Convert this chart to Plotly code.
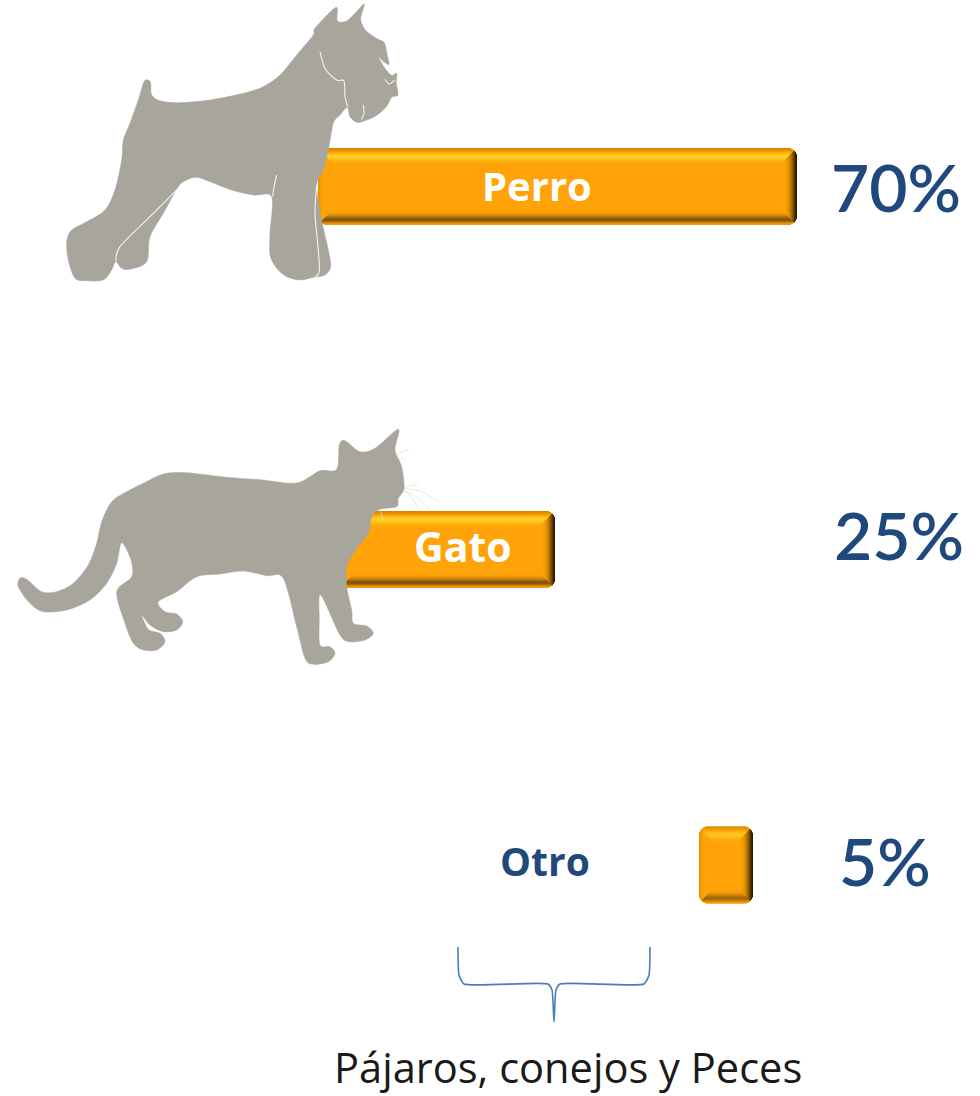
import plotly.graph_objects as go

# ---- data
categories = ["Perro", "Gato", "Otro"]
percent_values = [70, 25, 5]
bar_start = [318, 340, 699]
bar_end = [797, 555, 753]
bar_center_y = [186.5, 549.5, 865]
bar_thickness = 77

ORANGE = "#FFA308"
NAVY = "#1F497D"
GREY = "#A8A69C"

dog_outline = [(858,22),(862,62),(888,64),(915,40),(943,12),(932,58),(948,92),(985,118),(1003,128),(1012,165),(1017,193),(1002,186),(986,170),(1004,204),(1025,226),(1040,220),(1039,250),(1044,285),(1025,292),(1008,322),(978,347),(945,362),(920,367),(900,350),(892,322),(870,345),(850,370),(835,450),(820,510),(800,555),(815,660),(835,750),(842,800),(825,825),(790,832),(750,840),(710,830),(680,805),(660,765),(660,700),(665,590),(610,585),(545,570),(480,545),(440,532),(410,540),(385,560),(340,640),(300,710),(290,785),(240,808),(215,805),(197,785),(185,810),(160,840),(110,842),(75,835),(55,780),(50,725),(65,690),(110,665),(165,630),(195,570),(215,480),(220,420),(240,370),(265,300),(282,245),(295,240),(302,250),(305,285),(330,302),(385,308),(480,300),(580,280),(640,260),(690,225),(740,165),(790,105),(795,85)]
dog_white_lines = [
    [(810,155),(825,205),(860,240),(882,243),(885,290),(893,320)],
    [(800,555),(795,640),(805,750),(808,815),(795,830)],
    [(385,565),(300,650),(210,740),(197,785)],
    [(680,525),(672,560),(668,590)],
    [(1005,238),(1018,252),(1034,240)],
    [(940,315),(942,340),(935,358)],
]
cat_outline = [(1195,28),(1185,90),(1205,140),(1212,205),(1195,235),(1190,260),(1140,268),(1115,290),(1105,340),(1070,385),(1040,440),(1040,500),(1055,570),(1060,610),(1100,618),(1120,640),(1095,660),(1050,665),(1020,645),(962,525),(958,600),(960,675),(990,680),(1005,700),(985,725),(940,733),(915,715),(890,620),(850,475),(800,467),(730,453),(660,462),(590,470),(530,515),(475,545),(495,575),(530,582),(548,605),(530,630),(490,635),(450,615),(425,585),(445,628),(480,640),(495,665),(470,690),(430,690),(400,670),(375,610),(350,515),(395,470),(393,420),(365,368),(350,430),(320,490),(270,540),(200,570),(130,575),(90,550),(55,500),(60,475),(80,478),(125,515),(170,515),(220,490),(265,435),(290,370),(305,305),(335,245),(380,215),(430,190),(490,162),(560,158),(680,172),(790,180),(870,190),(910,182),(960,152),(1010,148),(1018,75),(1035,62),(1080,95),(1125,85)]
cat_whiskers = [
    [(1212,205),(1265,215),(1315,245)],
    [(1212,212),(1255,235),(1290,270)],
    [(1212,208),(1240,240),(1255,268)],
    [(1212,203),(1240,195),(1255,198)],
    [(1188,110),(1205,95),(1228,90)],
    [(1192,122),(1205,115),(1222,125)],
    [(1140,268),(1145,285),(1150,300)],
]
brace_x = [458, 459, 464, 548, 552, 554, 556, 560, 644, 649, 650]
brace_y = [947, 975, 984, 984, 990, 1022, 990, 984, 984, 975, 947]


def tf(points, ox, oy):
    return [(ox + x / 3, oy + y / 3) for x, y in points]


def smooth(points, closed=True, k=0.15):
    n = len(points)
    path = f"M {points[0][0]:.1f},{points[0][1]:.1f}"
    last = n if closed else n - 1
    for i in range(last):
        p0 = points[(i - 1) % n] if (closed or i > 0) else points[i]
        p1 = points[i]
        p2 = points[(i + 1) % n]
        p3 = points[(i + 2) % n] if (closed or i + 2 < n) else p2
        c1 = (p1[0] + (p2[0] - p0[0]) * k, p1[1] + (p2[1] - p0[1]) * k)
        c2 = (p2[0] - (p3[0] - p1[0]) * k, p2[1] - (p3[1] - p1[1]) * k)
        path += f" C {c1[0]:.1f},{c1[1]:.1f} {c2[0]:.1f},{c2[1]:.1f} {p2[0]:.1f},{p2[1]:.1f}"
    return path + (" Z" if closed else "")


fig = go.Figure()
fig.add_trace(go.Bar(
    y=bar_center_y,
    x=[e - s for s, e in zip(bar_start, bar_end)],
    base=bar_start,
    orientation="h",
    width=bar_thickness,
    marker=dict(color=ORANGE, line_width=0, cornerradius=9),
    hoverinfo="skip",
))
fig.add_trace(go.Scatter(
    x=brace_x, y=brace_y, mode="lines",
    line=dict(color="#4A7EBB", width=1.6, shape="spline", smoothing=0.5),
    hoverinfo="skip",
))

shapes = []
TOP = ["#D98200", "#E08A00", "#EA9400", "#F29C04", "#F8A808", "#FDB810", "#FFC41C", "#FFCC24", "#FFD028", "#FFCC24", "#FFC61E", "#FFBE18", "#FFB612", "#FFAF0E", "#FFAA0A", "#FFA608"]
BOTTOM = ["#F59A00", "#EE9400", "#D08000", "#A86A08", "#8A560C", "#84520C", "#8E5A0C", "#A4680C", "#BC780A", "#CF860A", "#E0920A", "#EE9A08", "#F8A008", "#FCA208"]
RIGHT = ["#2A1800", "#3E2600", "#583800", "#724A02", "#8E5C04", "#A86E06", "#BE7C06", "#D08806", "#DE9206", "#EA9806", "#F29C06", "#F8A008", "#FCA208"]
LEFT = ["#E89000", "#EE9602", "#F49C04", "#F8A006", "#FBA208", "#FDA408", "#FFA508"]
R = 9


def inset(d):
    if d >= R:
        return 0
    return R - (R ** 2 - (R - d - 0.5) ** 2) ** 0.5


def strip(x0, x1, y0, y1, color):
    if x1 > x0 and y1 > y0:
        shapes.append(dict(type="rect", xref="x", yref="y", x0=x0, x1=x1, y0=y0, y1=y1,
                           fillcolor=color, line_width=0, layer="above"))


for s, e, cy in zip(bar_start, bar_end, bar_center_y):
    t, b = cy - bar_thickness / 2, cy + bar_thickness / 2
    for d, c in enumerate(LEFT):
        strip(s + d, s + d + 1, t + max(d, inset(d)), b - max(d, inset(d)), c)
    for d, c in enumerate(TOP):
        m = max(d, inset(d))
        strip(s + m, e - m, t + d, t + d + 1, c)
    for d, c in enumerate(BOTTOM):
        m = max(d, inset(d))
        strip(s + m, e - m, b - d - 1, b - d, c)
    for d, c in enumerate(RIGHT):
        m = max(d, inset(d))
        strip(e - d - 1, e - d, t + m, b - m, c)

# silhouettes sit over the bars
shapes.append(dict(type="path", xref="x", yref="y", path=smooth(tf(dog_outline, 50, 0)),
                   fillcolor=GREY, line=dict(color=GREY, width=0.5), layer="above"))
for line in dog_white_lines:
    shapes.append(dict(type="path", xref="x", yref="y", path=smooth(tf(line, 50, 0), closed=False),
                       line=dict(color="#F4F3EE", width=1.1), layer="above"))
for line in cat_whiskers:
    shapes.append(dict(type="path", xref="x", yref="y", path=smooth(tf(line, 0, 420), closed=False),
                       line=dict(color="#DEDCD6", width=0.7), layer="above"))
shapes.append(dict(type="path", xref="x", yref="y", path=smooth(tf(cat_outline, 0, 420)),
                   fillcolor=GREY, line=dict(color=GREY, width=0.5), layer="above"))


def text(x, y, s, size, color, bold=False, font="Lato", weight=None):
    f = dict(family=font, size=size, color=color)
    if weight:
        f["weight"] = weight
    return dict(x=x, y=y, xref="x", yref="y", text=f"<b>{s}</b>" if bold else s, showarrow=False,
                xanchor="center", yanchor="middle", font=f)


annotations = [
    text(537, 185, categories[0], 40, "white", True, "Open Sans"),
    text(463, 546, categories[1], 41, "white", True, "Open Sans"),
    text(545, 860, categories[2], 39, NAVY, True, "Open Sans"),
    text(896, 186, f"{percent_values[0]}%", 66, NAVY, False, "Lato", 600),
    text(899, 534, f"{percent_values[1]}%", 66, NAVY, False, "Lato", 600),
    text(885, 860, f"{percent_values[2]}%", 66, NAVY, False, "Lato", 600),
    text(568, 1066.5, "Pájaros, conejos y Peces", 41.6, "#1a1a1a", False, "Open Sans"),
]

fig.update_layout(
    width=980, height=1096, margin=dict(l=0, r=0, t=0, b=0),
    paper_bgcolor="white", plot_bgcolor="white", showlegend=False,
    xaxis=dict(range=[0, 980], visible=False, fixedrange=True),
    yaxis=dict(range=[1096, 0], visible=False, fixedrange=True),
    shapes=shapes, annotations=annotations,
)
fig.write_html("out.html", config=dict(displayModeBar=False),
               post_script="document.body.style.margin='0';document.body.style.overflow='hidden';")
